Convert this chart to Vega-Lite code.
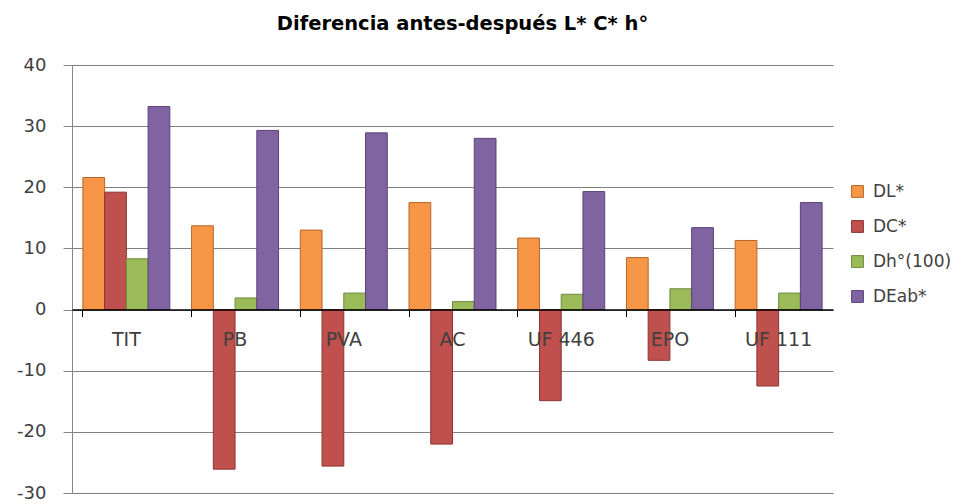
{
  "$schema": "https://vega.github.io/schema/vega-lite/v6.json",
  "autosize": {"type": "none"},
  "width": 761,
  "height": 428,
  "padding": {"left": 72, "top": 65, "right": 130, "bottom": 11},
  "background": "white",
  "title": {
    "text": "Diferencia antes-después L* C* h°",
    "font": "DejaVu Sans",
    "fontSize": 19.5,
    "fontWeight": "bold",
    "color": "#000000",
    "anchor": "middle",
    "frame": "group",
    "offset": 22,
    "dx": 10
  },
  "config": {
    "view": {"stroke": null},
    "font": "DejaVu Sans"
  },
  "data": {
    "values": [
      {"muestra": "TIT", "serie": "DL*", "valor": 21.6},
      {"muestra": "TIT", "serie": "DC*", "valor": 19.2},
      {"muestra": "TIT", "serie": "Dh°(100)", "valor": 8.3},
      {"muestra": "TIT", "serie": "DEab*", "valor": 33.2},
      {"muestra": "PB", "serie": "DL*", "valor": 13.7},
      {"muestra": "PB", "serie": "DC*", "valor": -26.1},
      {"muestra": "PB", "serie": "Dh°(100)", "valor": 1.9},
      {"muestra": "PB", "serie": "DEab*", "valor": 29.3},
      {"muestra": "PVA", "serie": "DL*", "valor": 13.0},
      {"muestra": "PVA", "serie": "DC*", "valor": -25.6},
      {"muestra": "PVA", "serie": "Dh°(100)", "valor": 2.7},
      {"muestra": "PVA", "serie": "DEab*", "valor": 28.9},
      {"muestra": "AC", "serie": "DL*", "valor": 17.5},
      {"muestra": "AC", "serie": "DC*", "valor": -22.0},
      {"muestra": "AC", "serie": "Dh°(100)", "valor": 1.3},
      {"muestra": "AC", "serie": "DEab*", "valor": 28.0},
      {"muestra": "UF 446", "serie": "DL*", "valor": 11.7},
      {"muestra": "UF 446", "serie": "DC*", "valor": -14.9},
      {"muestra": "UF 446", "serie": "Dh°(100)", "valor": 2.5},
      {"muestra": "UF 446", "serie": "DEab*", "valor": 19.3},
      {"muestra": "EPO", "serie": "DL*", "valor": 8.5},
      {"muestra": "EPO", "serie": "DC*", "valor": -8.3},
      {"muestra": "EPO", "serie": "Dh°(100)", "valor": 3.4},
      {"muestra": "EPO", "serie": "DEab*", "valor": 13.4},
      {"muestra": "UF 111", "serie": "DL*", "valor": 11.3},
      {"muestra": "UF 111", "serie": "DC*", "valor": -12.5},
      {"muestra": "UF 111", "serie": "Dh°(100)", "valor": 2.7},
      {"muestra": "UF 111", "serie": "DEab*", "valor": 17.5}
    ]
  },
  "mark": {"type": "bar", "strokeWidth": 1},
  "encoding": {
    "x": {
      "field": "muestra",
      "type": "nominal",
      "sort": ["TIT", "PB", "PVA", "AC", "UF 446", "EPO", "UF 111"],
      "scale": {"paddingInner": 0.2, "paddingOuter": 0.1},
      "axis": {
        "title": null,
        "orient": "bottom",
        "offset": -183.4,
        "zindex": 1,
        "labelAngle": 0,
        "labelFontSize": 19,
        "labelColor": "#404040",
        "labelPadding": 14,
        "domainColor": "#000000",
        "domainWidth": 1.5,
        "tickColor": "#000000",
        "tickSize": 7,
        "bandPosition": 0,
        "grid": false
      }
    },
    "xOffset": {
      "field": "serie",
      "type": "nominal",
      "sort": ["DL*", "DC*", "Dh°(100)", "DEab*"],
      "scale": {"paddingInner": 0, "paddingOuter": 0}
    },
    "y": {
      "field": "valor",
      "type": "quantitative",
      "scale": {"domain": [-30, 40], "nice": false, "zero": false},
      "axis": {
        "title": null,
        "values": [-30, -20, -10, 0, 10, 20, 30, 40],
        "labelExpr": "replace(datum.label, '\u2212', '-')",
        "grid": true,
        "gridColor": "#7f7f7f",
        "gridWidth": 1,
        "domainColor": "#868686",
        "tickColor": "#868686",
        "tickSize": 9,
        "labelFontSize": 18,
        "labelColor": "#404040",
        "labelPadding": 17
      }
    },
    "color": {
      "field": "serie",
      "type": "nominal",
      "scale": {
        "domain": ["DL*", "DC*", "Dh°(100)", "DEab*"],
        "range": ["#F79646", "#C0504D", "#9BBB59", "#8064A2"]
      },
      "legend": {
        "title": null,
        "orient": "none",
        "legendX": 777,
        "legendY": 118,
        "symbolType": "square",
        "symbolSize": 140,
        "symbolStrokeWidth": 1,
        "rowPadding": 17,
        "labelFontSize": 17,
        "labelColor": "#404040",
        "labelOffset": 7
      }
    },
    "stroke": {
      "field": "serie",
      "type": "nominal",
      "scale": {
        "domain": ["DL*", "DC*", "Dh°(100)", "DEab*"],
        "range": ["#B8652A", "#8C3431", "#6E8A3C", "#5B437A"]
      },
      "legend": null
    }
  }
}
